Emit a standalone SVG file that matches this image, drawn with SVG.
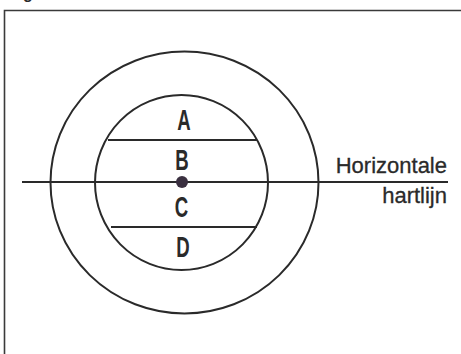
<svg xmlns="http://www.w3.org/2000/svg" width="461" height="354" viewBox="0 0 461 354">
<style>
.ln{stroke:#2a2a2a;stroke-width:2;fill:none}
.fr{stroke:#3a3a3a;stroke-width:1.6;fill:none}
.lt{font-family:"Liberation Sans",Arial,sans-serif;font-weight:bold;font-size:30px;fill:#2a2a2a;text-anchor:middle}
.lb{font-family:"Liberation Sans",Arial,sans-serif;font-size:22px;fill:#2a2a2a;text-anchor:end;stroke:#2a2a2a;stroke-width:0.3}
</style>
<rect width="461" height="354" fill="#ffffff"/>
<text x="28" y="-1" font-family="Liberation Sans, sans-serif" font-size="16" font-weight="bold" fill="#2a2a2a" text-anchor="middle">g</text>
<g id="frame">
<path class="fr" d="M4.5 354 V10.5 H461"/>
</g>
<g id="outer-circle"><ellipse class="ln" cx="184.5" cy="182.5" rx="134" ry="131"/></g>
<g id="inner-circle"><ellipse class="ln" cx="181.5" cy="182.5" rx="86.5" ry="87.5"/></g>
<g id="connectors">
<line class="ln" x1="22" y1="182" x2="448" y2="182"/>
<line class="ln" x1="108" y1="140" x2="257" y2="140"/>
<line class="ln" x1="111" y1="227" x2="257" y2="227"/>
</g>
<g id="center"><circle cx="182" cy="182" r="6" fill="#3a3040"/></g>
<g id="A"><text class="lt" transform="translate(184,130) scale(0.62,1)">A</text></g>
<g id="B"><text class="lt" transform="translate(182,170) scale(0.62,1)">B</text></g>
<g id="C"><text class="lt" transform="translate(181.5,217) scale(0.62,1)">C</text></g>
<g id="D"><text class="lt" transform="translate(183,257) scale(0.62,1)">D</text></g>
<g id="label">
<text class="lb" x="447" y="173">Horizontale</text>
<text class="lb" x="447" y="203">hartlijn</text>
</g>
</svg>
